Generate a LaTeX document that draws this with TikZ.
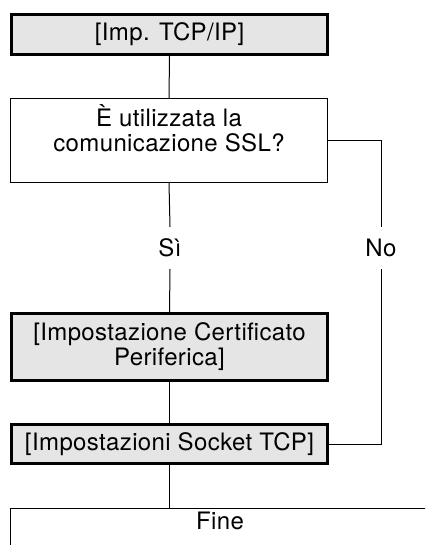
\documentclass[tikz,border=0pt]{standalone}
\usepackage{fontspec}
\setmainfont{TeX Gyre Heros}[LetterSpace=1.5]
\definecolor{boxgray}{gray}{0.9}
\begin{document}
\begin{tikzpicture}[x=1pt,y=-1pt,line cap=butt,line join=miter,
	every node/.style={font=\fontsize{24}{25}\selectfont,align=center,inner sep=0pt},
	setbox/.style={draw,line width=3.3pt,fill=boxgray,minimum width=316pt},
	askbox/.style={draw,line width=1pt,minimum width=317pt},
	answer/.style={minimum height=42pt},
	link/.style={line width=1pt}]
	\useasboundingbox (0,0) rectangle (425,545);
	\clip (0,0) rectangle (425,545);
	\node[setbox,minimum height=40pt] (tcpip) at (169.5,34.5) {[Imp. TCP/IP]};
	\node[askbox,minimum height=84pt,text depth=25pt] (ssl) at (169,140.5) {È utilizzata la\\comunicazione SSL?};
	\node[answer] (si) at (170,248) {Sì};
	\node[answer] (no) at (381,248) {No};
	\node[setbox,minimum height=67pt] (cert) at (169.5,347) {[Impostazione Certificato\\Periferica]};
	\node[setbox,minimum height=39pt] (socket) at (169.5,444) {[Impostazioni Socket TCP]};
	\node[draw,line width=1pt,minimum width=420pt,text height=21pt,text depth=40pt,anchor=north] (fine) at (220,508) {Fine};
	\draw[link] (tcpip.south) -- (ssl.north);
	\draw[link] (ssl.south) -- (si.north) (si.south) -- (cert.north);
	\draw[link] (ssl.east) -| (no.north) (no.south) |- (socket.east);
	\draw[link] (cert.south) -- (socket.north);
	\draw[link] (socket.south) -- (socket.south |- fine.north);
\end{tikzpicture}
\end{document}
